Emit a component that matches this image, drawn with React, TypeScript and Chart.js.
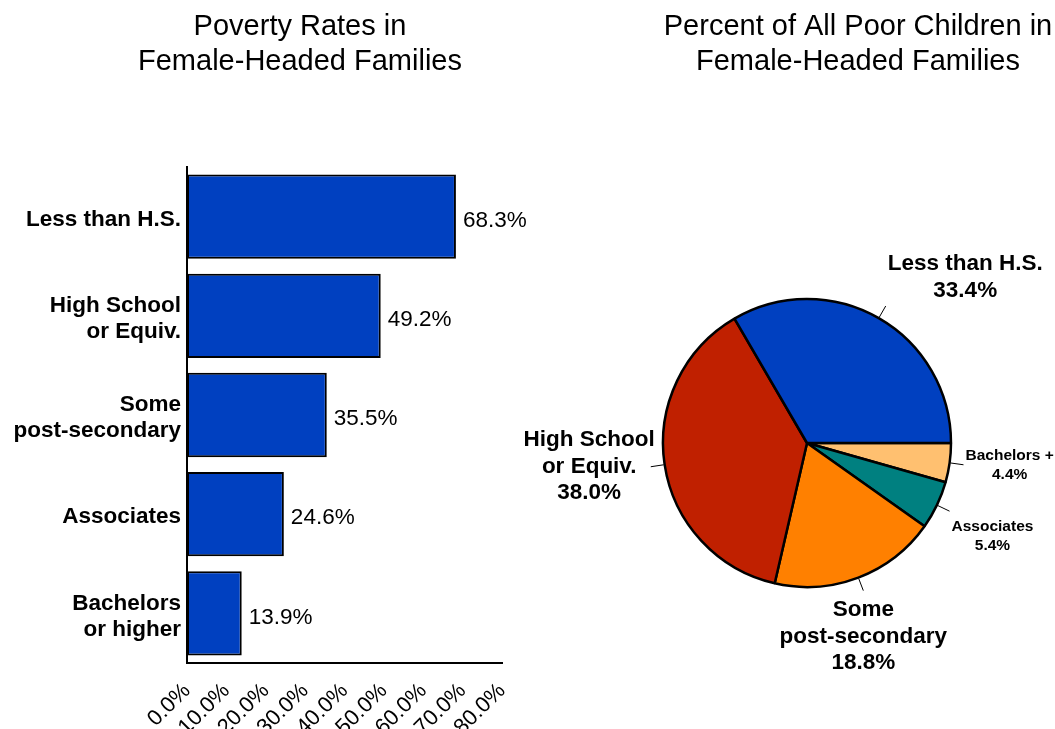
import React, { useEffect, useRef } from "react";
import { Chart, registerables } from "chart.js";

Chart.register(...registerables);

const FONT = "'Liberation Sans', Arial, Helvetica, sans-serif";

// ---- Data ----
const barTitle = ["Poverty Rates in", "Female-Headed Families"];
const barCategories = [
  ["Less than H.S."],
  ["High School", "or Equiv."],
  ["Some", "post-secondary"],
  ["Associates"],
  ["Bachelors", "or higher"],
];
const barValues = [68.3, 49.2, 35.5, 24.6, 13.9];
const xTickLabels = ["0.0%", "10.0%", "20.0%", "30.0%", "40.0%", "50.0%", "60.0%", "70.0%", "80.0%"];

const pieTitle = ["Percent of All Poor Children in", "Female-Headed Families"];
const pieCategories = [
  ["Less than H.S."],
  ["High School", "or Equiv."],
  ["Some", "post-secondary"],
  ["Associates"],
  ["Bachelors +"],
];
const pieValues = [33.4, 38.0, 18.8, 5.4, 4.4];
const pieColors = ["#0040C0", "#C02000", "#FF8000", "#008080", "#FFC070"];
const BAR_COLOR = "#0040C0";

const makeTitlePlugin = (lines: string[]) => ({
  id: "customTitle",
  afterDraw(chart: any) {
    const ctx = chart.ctx;
    ctx.save();
    ctx.font = `normal 29px ${FONT}`;
    ctx.fillStyle = "#000";
    ctx.textAlign = "center";
    ctx.textBaseline = "middle";
    lines.forEach((l, k) => ctx.fillText(l, chart.width / 2, 27 + k * 35));
    ctx.restore();
  },
});

const barValuePlugin = {
  id: "barValueLabels",
  afterDatasetsDraw(chart: any) {
    const ctx = chart.ctx;
    const meta = chart.getDatasetMeta(0);
    ctx.save();
    ctx.font = `normal 22.5px ${FONT}`;
    ctx.fillStyle = "#000";
    ctx.textAlign = "left";
    ctx.textBaseline = "middle";
    meta.data.forEach((el: any, i: number) => {
      const { x, y } = el.getProps(["x", "y"], true);
      ctx.fillText(barValues[i].toFixed(1) + "%", x + 7, y + 4);
    });
    ctx.restore();
  },
};

// Chart.js draws slices clockwise; the reference runs counter-clockwise from 3 o'clock
const pieOrder = [4, 3, 2, 1, 0];

const pieLabelPlugin = {
  id: "pieLabels",
  afterDatasetsDraw(chart: any) {
    const ctx = chart.ctx;
    const meta = chart.getDatasetMeta(0);
    ctx.save();
    ctx.strokeStyle = "#000";
    ctx.lineWidth = 1;
    ctx.fillStyle = "#000";
    meta.data.forEach((el: any, j: number) => {
      const i = pieOrder[j];
      const { x, y, startAngle, endAngle, outerRadius } = el.getProps(
        ["x", "y", "startAngle", "endAngle", "outerRadius"],
        true
      );
      const mid = (startAngle + endAngle) / 2;
      const dx = Math.cos(mid);
      const dy = Math.sin(mid);
      const r1 = outerRadius + 1;
      const r2 = outerRadius + 14;
      const ex = x + dx * r2;
      const ey = y + dy * r2;
      ctx.beginPath();
      ctx.moveTo(x + dx * r1, y + dy * r1);
      ctx.lineTo(ex, ey);
      ctx.stroke();

      const small = pieValues[i] < 10;
      const size = small ? 15.5 : 22.5;
      const lh = small ? 19 : 26.5;
      const lines = [...pieCategories[i], pieValues[i].toFixed(1) + "%"];
      ctx.font = `bold ${size}px ${FONT}`;
      const w = Math.max(...lines.map((l) => ctx.measureText(l).width));
      const h = lines.length * lh;
      let cx: number;
      if (Math.abs(dx) < 0.4) cx = ex;
      else if (dx > 0) cx = ex + 2 + w / 2;
      else cx = ex + 4 - w / 2;
      let top: number;
      if (Math.abs(dy) < 0.3) top = ey - h / 2;
      else if (dy > 0) top = ey + 6;
      else top = ey - 2 - h;
      ctx.textAlign = "center";
      ctx.textBaseline = "middle";
      lines.forEach((l, k) => {
        ctx.fillText(l, cx, top + lh * (k + 0.5));
      });
    });
    ctx.restore();
  },
};

function BarChart() {
  const ref = useRef<HTMLCanvasElement | null>(null);
  useEffect(() => {
    if (!ref.current) return;
    const chart = new Chart(ref.current, {
      type: "bar",
      data: {
        labels: barCategories,
        datasets: [
          {
            data: barValues,
            backgroundColor: BAR_COLOR,
            borderColor: "#000",
            borderWidth: 2,
            borderSkipped: false,
            barPercentage: 0.85,
            categoryPercentage: 1,
          },
        ],
      },
      options: {
        indexAxis: "y",
        responsive: false,
        animation: false,
        layout: { padding: { left: 0, right: 98, top: 167, bottom: 0 } },
        plugins: {
          legend: { display: false },
          tooltip: { enabled: false },
          title: { display: false },
        },
        scales: {
          x: {
            min: 0,
            max: 80,
            afterFit: (s: any) => {
              s.height = 66;
            },
            grid: { display: false, drawTicks: false },
            border: { display: true, color: "#000", width: 2 },
            ticks: {
              stepSize: 10,
              autoSkip: false,
              minRotation: 45,
              maxRotation: 45,
              color: "#000",
              padding: 15,
              font: { family: FONT, size: 22 },
              callback: (_v: any, i: number) => xTickLabels[i],
            },
          },
          y: {
            afterFit: (s: any) => {
              s.width = 187;
            },
            grid: { display: false, drawTicks: false },
            border: { display: true, color: "#000", width: 2 },
            ticks: {
              color: "#000",
              padding: 6,
              labelOffset: 3,
              font: { family: FONT, size: 22.5, weight: "bold", lineHeight: 1.15 },
            },
          },
        },
      } as any,
      plugins: [barValuePlugin, makeTitlePlugin(barTitle)],
    });
    return () => chart.destroy();
  }, []);
  return (
    <canvas
      ref={ref}
      width={600}
      height={729}
      style={{ position: "absolute", left: 0, top: 0, width: 600, height: 729 }}
    />
  );
}

function PieChart() {
  const ref = useRef<HTMLCanvasElement | null>(null);
  useEffect(() => {
    if (!ref.current) return;
    const chart = new Chart(ref.current, {
      type: "pie",
      data: {
        labels: pieOrder.map((i) => pieCategories[i].join(" ")),
        datasets: [
          {
            data: pieOrder.map((i) => pieValues[i]),
            backgroundColor: pieOrder.map((i) => pieColors[i]),
            borderColor: "#000",
            borderWidth: 2.5,
          },
        ],
      },
      options: {
        responsive: false,
        animation: false,
        rotation: 90,
        radius: 144,
        layout: { padding: { left: 162, right: 264, top: 166, bottom: 9 } },
        plugins: {
          legend: { display: false },
          tooltip: { enabled: false },
          title: { display: false },
        },
      } as any,
      plugins: [pieLabelPlugin, makeTitlePlugin(pieTitle)],
    });
    return () => chart.destroy();
  }, []);
  return (
    <canvas
      ref={ref}
      width={716}
      height={729}
      style={{ position: "absolute", left: 500, top: 0, width: 716, height: 729 }}
    />
  );
}

export default function App() {
  return (
    <div
      style={{
        position: "fixed",
        left: 0,
        top: 0,
        width: 1055,
        height: 729,
        overflow: "hidden",
        background: "#fff",
      }}
    >
      <BarChart />
      <PieChart />
    </div>
  );
}
